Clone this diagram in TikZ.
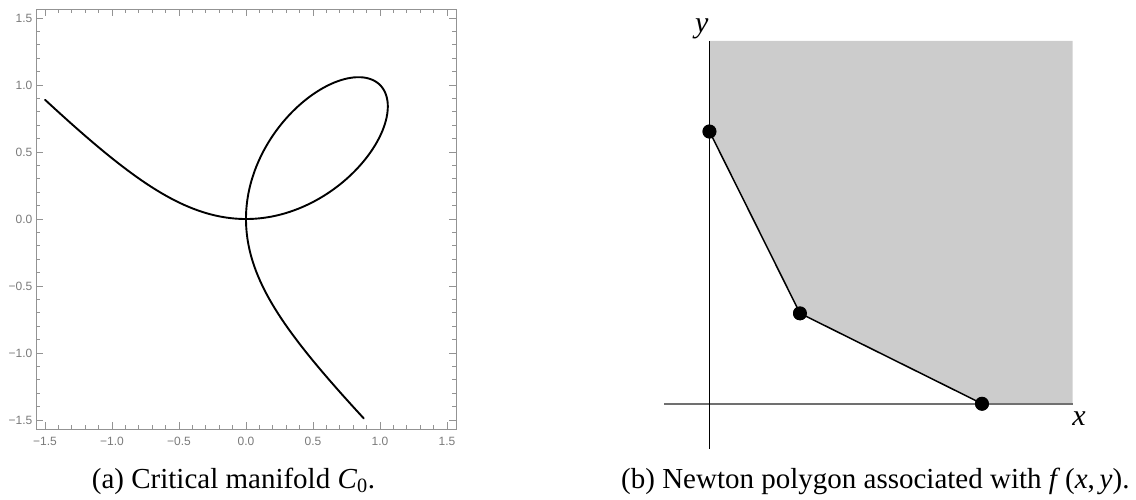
\documentclass[tikz,border=0pt]{standalone}
\usepackage{fontspec}
\setmainfont{Liberation Serif}
\newfontfamily\ticksf{Liberation Sans}
\definecolor{framegray}{HTML}{939393}
\definecolor{ticklab}{HTML}{7A7A7A}
\definecolor{regiongray}{HTML}{CCCCCC}
\definecolor{axisgray}{HTML}{707070}
\tikzset{
  framesty/.style={draw=framegray, line width=0.9pt},
  ticksty/.style={draw=framegray, line width=0.8pt},
  ticklabel/.style={font=\ticksf\fontsize{12}{14}\selectfont, text=ticklab, inner sep=0pt},
  curvesty/.style={draw=black, line width=1.9pt, line join=round, line cap=round},
  caption/.style={font=\fontsize{29}{33}\selectfont, inner sep=0pt, anchor=base west},
  axlabel/.style={font=\itshape\fontsize{30}{34}\selectfont, inner sep=0pt},
  vertex/.style={circle, fill=black, inner sep=0pt, minimum size=14pt},
  polyline/.style={draw=black, line width=1.5pt},
}
\begin{document}
\begin{tikzpicture}[x=1pt,y=-1pt]
\useasboundingbox (0,0) rectangle (1136,500);
% ---------- (a) ----------
\begin{scope}[shift={(246,219)}, x=134pt, y=134pt]
  \def\R{1.567}
  \draw[framesty] (-\R,-\R) rectangle (\R,\R);
  \foreach \i in {-15,...,15} {
    \pgfmathsetmacro\v{\i/10}
    \draw[ticksty] (\v,-\R) -- ++(0,3.5pt);
    \draw[ticksty] (\v,\R) -- ++(0,-3.5pt);
    \draw[ticksty] (-\R,\v) -- ++(3.5pt,0);
    \draw[ticksty] (\R,\v) -- ++(-3.5pt,0);
  }
  \foreach \v/\lab/\nm in {-1.5/{−1.5}/a,-1/{−1.0}/b,-0.5/{−0.5}/c,0/{0.0}/d,0.5/{0.5}/e,1/{1.0}/f,1.5/{1.5}/g} {
    \draw[ticksty] (\v,-\R) -- ++(0,6.5pt);
    \draw[ticksty] (\v,\R) -- ++(0,-6.5pt);
    \draw[ticksty] (-\R,\v) -- ++(6.5pt,0);
    \draw[ticksty] (\R,\v) -- ++(-6.5pt,0);
    \node[ticklabel, anchor=north] (xt\nm) at ([yshift=-8pt]\v,-\R) {\lab};
    \node[ticklabel, anchor=east] (yt\nm) at ([xshift=-3.5pt]-\R,\v) {\lab};
  }
  \draw[curvesty]
    plot[variable=\t, domain=-0.5933:1, samples=220] ({2*\t/(1+\t*\t*\t)},{2*\t*\t/(1+\t*\t*\t)})
    -- plot[variable=\t, domain=1:-0.5933, samples=220] ({2*\t*\t/(1+\t*\t*\t)},{2*\t/(1+\t*\t*\t)});
\end{scope}
\node[caption] (capa) at (91.7,488) {(a) Critical manifold \textit{C}\textsubscript{0}.};
% ---------- (b) ----------
\coordinate (tl) at (709.5,41);
\coordinate (tr) at (1072.5,41);
\coordinate (br) at (1072.5,404);
\coordinate (ybot) at (709.5,449);
\coordinate (xleft) at (664,404);
\node[vertex] (p1) at (709.5,131.5) {};
\node[vertex] (p2) at (800,313.3) {};
\node[vertex] (p3) at (982,403.7) {};
\fill[regiongray] (tl) -- (tr) -- (br) -- (p3.center) -- (p2.center) -- (p1.center) -- cycle;
\draw[axisgray, line width=1.3pt] (xleft) -- (br);
\draw[black, line width=0.9pt] (tl) -- (ybot);
\draw[polyline] (p1.center) -- (p2.center) -- (p3.center);
\node[vertex] at (p1) {};
\node[vertex] at (p2) {};
\node[vertex] at (p3) {};
\node[axlabel] (ylab) at (701.7,29) {y};
\node[axlabel] (xlab) at (1079,419) {x};
\node[caption] (capb) at (621,488) {(b) Newton polygon associated with \textit{f}\,(\textit{x},\,\textit{y}).};
\end{tikzpicture}
\end{document}
